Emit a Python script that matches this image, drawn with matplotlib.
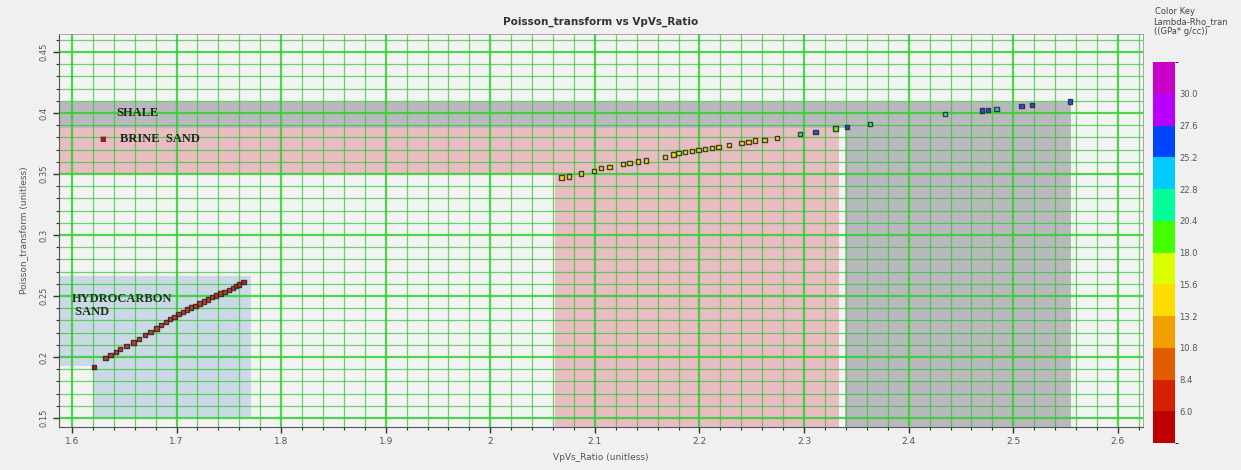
"""
Poisson_transform vs VpVs_Ratio crossplot with lithology zones.
"""

import matplotlib

matplotlib.use("Agg")

import matplotlib.pyplot as plt
from matplotlib.colors import BoundaryNorm, ListedColormap
from matplotlib.patches import Polygon, Rectangle
from matplotlib.ticker import MultipleLocator

# Hydrocarbon sand trend
hc_vpvs = [1.621, 1.632, 1.637, 1.642, 1.646, 1.652, 1.659, 1.664, 1.670, 1.675,
           1.681, 1.685, 1.690, 1.694, 1.698, 1.702, 1.706, 1.710, 1.714, 1.718,
           1.722, 1.726, 1.730, 1.734, 1.738, 1.742, 1.746, 1.750, 1.754, 1.757,
           1.760, 1.764]
hc_pr = [0.192, 0.199, 0.2015, 0.204, 0.2066, 0.209, 0.212, 0.2145, 0.218, 0.2205,
         0.2235, 0.226, 0.2285, 0.231, 0.233, 0.235, 0.237, 0.2388, 0.2405, 0.242,
         0.2438, 0.2455, 0.2472, 0.249, 0.2505, 0.252, 0.2535, 0.255, 0.2565, 0.258,
         0.2595, 0.2615]
hc_lr = [5.0, 7.0, 6.5, 7.2, 6.8, 7.0, 6.2, 7.5, 6.9, 7.1,
         6.6, 7.3, 6.4, 7.0, 6.8, 7.2, 6.5, 7.4, 6.9, 7.0,
         6.7, 7.1, 6.6, 7.3, 6.8, 7.0, 6.5, 7.2, 6.9, 7.1,
         6.8, 5.2]

# Brine sand trend
brine_vpvs = [2.068, 2.075, 2.087, 2.099, 2.106, 2.114, 2.127, 2.133, 2.141, 2.149,
              2.167, 2.175, 2.180, 2.186, 2.193, 2.199, 2.205, 2.212, 2.218, 2.228,
              2.240, 2.247, 2.253, 2.262, 2.274, 2.296]
brine_pr = [0.3473, 0.348, 0.3505, 0.3527, 0.3547, 0.3555, 0.358, 0.3588, 0.3601, 0.361,
            0.3637, 0.366, 0.367, 0.368, 0.369, 0.3698, 0.3704, 0.3712, 0.372, 0.3736,
            0.3752, 0.3763, 0.3774, 0.378, 0.3796, 0.3826]
brine_lr = [15.0, 15.5, 13.8, 16.2, 15.4, 14.2, 15.8, 16.0, 14.5, 13.9,
            16.4, 15.1, 16.6, 15.9, 16.3, 15.2, 16.8, 15.7, 14.8, 15.3,
            13.6, 14.9, 15.5, 14.1, 13.4, 21.5]

# Shale trend
shale_vpvs = [2.311, 2.330, 2.341, 2.363, 2.435, 2.470, 2.476, 2.484, 2.508, 2.518, 2.554]
shale_pr = [0.3845, 0.3872, 0.3883, 0.391, 0.3992, 0.4022, 0.4026, 0.4033, 0.406, 0.4068, 0.4093]
shale_lr = [26.5, 20.0, 26.0, 22.5, 21.0, 26.8, 26.2, 23.0, 26.5, 26.0, 25.5]

# Lithology zones (x0, x1, y0, y1)
shale_zones = [(1.58, 2.555, 0.388, 0.409), (2.339, 2.555, 0.14, 0.388)]
brine_zones = [(1.58, 2.333, 0.35, 0.388), (2.062, 2.333, 0.14, 0.35)]
hc_zone_x = [1.58, 1.771, 1.771, 1.620, 1.620, 1.58]
hc_zone_y = [0.266, 0.266, 0.151, 0.151, 0.193, 0.193]

# Color key
key_colors = ["#c00000", "#d42000", "#e25c00", "#f2a000", "#ffdc00", "#dcff00",
              "#44ff00", "#00ff99", "#00ccff", "#0044ff", "#b800ff", "#c800c8"]
key_bounds = [3.6, 6.0, 8.4, 10.8, 13.2, 15.6, 18.0, 20.4, 22.8, 25.2, 27.6, 30.0, 32.4]
key_ticks = [6.0, 8.4, 10.8, 13.2, 15.6, 18.0, 20.4, 22.8, 25.2, 27.6, 30.0]

cmap = ListedColormap(key_colors)
norm = BoundaryNorm(key_bounds, cmap.N)

fig = plt.figure(figsize=(12.41, 4.70), dpi=100, facecolor="#f0f0f0")
ax = fig.add_axes([0.0475, 0.0915, 0.8735, 0.8362])
ax.set_facecolor("#f3f3f3")

# Зоны
for x0, x1, y0, y1 in shale_zones:
    ax.add_patch(Rectangle((x0, y0), x1 - x0, y1 - y0, facecolor="#b9b9bd", edgecolor="none", zorder=1))
for x0, x1, y0, y1 in brine_zones:
    ax.add_patch(Rectangle((x0, y0), x1 - x0, y1 - y0, facecolor="#e8bcc3", edgecolor="none", zorder=1))
ax.add_patch(Polygon(list(zip(hc_zone_x, hc_zone_y)), closed=True, facecolor="#cbd9e6",
                     edgecolor="none", zorder=1))

# Точки
for xs, ys, vals in [(hc_vpvs, hc_pr, hc_lr), (brine_vpvs, brine_pr, brine_lr),
                     (shale_vpvs, shale_pr, shale_lr)]:
    ax.scatter(xs, ys, c=vals, cmap=cmap, norm=norm, marker="s", s=10,
               edgecolors="#262626", linewidths=1.0, alpha=0.85, zorder=3)

ax.set_xlim(1.5876, 2.624)
ax.set_ylim(0.1426, 0.4648)
ax.xaxis.set_major_locator(MultipleLocator(0.1))
ax.xaxis.set_minor_locator(MultipleLocator(0.02))
ax.yaxis.set_major_locator(MultipleLocator(0.05))
ax.yaxis.set_minor_locator(MultipleLocator(0.01))
ax.xaxis.set_major_formatter(plt.FuncFormatter(lambda v, p: f"{v:g}"))
ax.yaxis.set_major_formatter(plt.FuncFormatter(lambda v, p: f"{v:g}"))

ax.grid(which="major", color="#30d030", linewidth=1.6, alpha=0.85)
ax.grid(which="minor", color="#2fc42f", linewidth=0.9, alpha=0.7)

ax.tick_params(which="major", direction="out", length=4, width=1, color="#333333",
               labelsize=6.5, labelcolor="#555555")
ax.tick_params(which="minor", direction="out", length=2, width=0.8, color="#333333")
ax.tick_params(axis="y", labelrotation=90, labelsize=6)
for lbl in ax.get_yticklabels():
    lbl.set_va("center")
for side in ["left", "bottom"]:
    ax.spines[side].set_color("#555555")
for side in ["top", "right"]:
    ax.spines[side].set_color("#999999")
    ax.spines[side].set_linewidth(0.6)

ax.set_title("Poisson_transform vs VpVs_Ratio", fontsize=7.5, weight="bold", color="#333333", pad=7)
ax.set_xlabel("VpVs_Ratio (unitless)", fontsize=6.5, color="#555555", labelpad=5)
ax.set_ylabel("Poisson_transform (unitless)", fontsize=6.5, color="#555555", labelpad=8)

# Подписи зон
serif = ["Liberation Serif", "DejaVu Serif"]
ax.text(1.642, 0.4, "SHALE", family=serif, fontsize=9, weight="bold", color="#222222",
        va="center", ha="left", zorder=4)
ax.text(1.6297, 0.3787, "■", fontsize=5, color="#8b2020", va="center", ha="center", zorder=4)
ax.text(1.646, 0.3787, "BRINE  SAND", family=serif, fontsize=9, weight="bold", color="#222222",
        va="center", ha="left", zorder=4)
ax.text(1.600, 0.2425, "HYDROCARBON\n SAND", family=serif, fontsize=9, weight="bold",
        color="#1f3320", va="center", ha="left", linespacing=1.1, zorder=4)

# Цветовая шкала
cax = fig.add_axes([0.929, 0.0574, 0.0177, 0.8106])
sm = plt.cm.ScalarMappable(cmap=cmap, norm=norm)
cb = fig.colorbar(sm, cax=cax, boundaries=key_bounds, ticks=key_ticks)
cb.outline.set_visible(False)
cb.ax.tick_params(length=0, labelsize=6, labelcolor="#555555", pad=3)
cb.ax.set_yticklabels([f"{t:.1f}" for t in key_ticks])
fig.text(0.9305, 0.975, "Color Key", fontsize=6, color="#444444", va="center")
fig.text(0.9295, 0.953, "Lambda-Rho_tran", fontsize=6, color="#444444", va="center")
fig.text(0.9295, 0.932, "((GPa* g/cc))", fontsize=6, color="#444444", va="center")

fig.savefig("out.png", dpi=100, facecolor=fig.get_facecolor())
plt.close(fig)
